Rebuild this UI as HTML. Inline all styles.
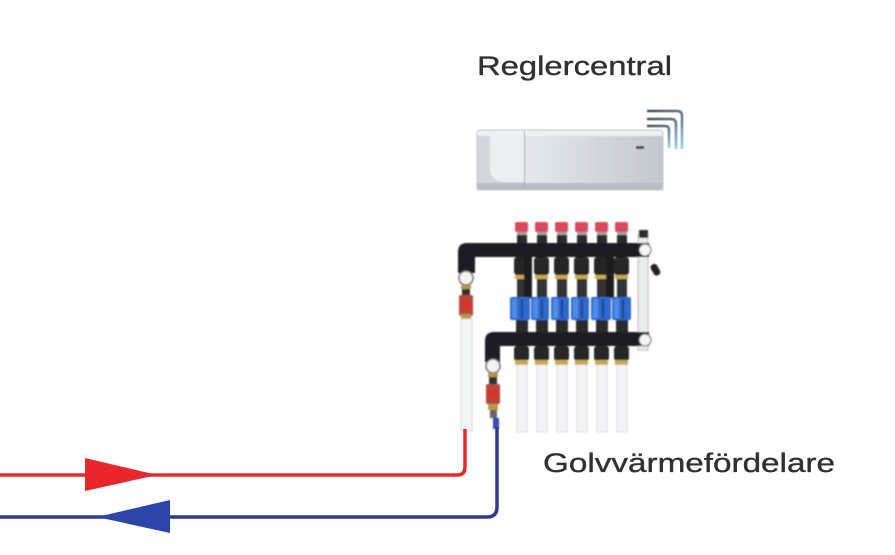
<!DOCTYPE html>
<html><head><meta charset="utf-8"><style>
html,body{margin:0;padding:0;background:#fff;}
svg{display:block;}
</style></head><body>
<svg width="895" height="555" viewBox="0 0 895 555" xmlns="http://www.w3.org/2000/svg">
<defs>
<linearGradient id="box" x1="0" y1="0" x2="1" y2="0">
<stop offset="0" stop-color="#e6e9ec"/><stop offset="0.3" stop-color="#e2e7ed"/><stop offset="0.7" stop-color="#d0d5db"/><stop offset="1" stop-color="#c3c8ce"/>
</linearGradient>
<linearGradient id="wifi" x1="0" y1="0" x2="1" y2="1">
<stop offset="0" stop-color="#4a4f55"/><stop offset="0.6" stop-color="#5f7d90"/><stop offset="1" stop-color="#8fd0f0"/>
</linearGradient>
<filter id="bl" x="-5%" y="-5%" width="110%" height="110%"><feGaussianBlur stdDeviation="0.9"/></filter>
<filter id="bl2"><feGaussianBlur stdDeviation="0.5"/></filter>
</defs>

<text x="477" y="75" font-family="Liberation Sans, sans-serif" font-size="27" fill="#303030" stroke="#303030" stroke-width="0.35" textLength="195" lengthAdjust="spacingAndGlyphs">Reglercentral</text>
<text x="543" y="472" font-family="Liberation Sans, sans-serif" font-size="27" fill="#303030" stroke="#303030" stroke-width="0.35" textLength="292" lengthAdjust="spacingAndGlyphs">Golvvärmefördelare</text>

<!-- controller -->
<g filter="url(#bl2)">
<rect x="477" y="130" width="186" height="60" rx="3" fill="url(#box)"/>
<rect x="477" y="130" width="186" height="6" fill="#eef0f2"/>
<rect x="477" y="183" width="186" height="7" fill="#b9bec4"/>
<path d="M477,136 H490 V168 Q490,182 506,182 H524 V183 H477 Z" fill="#d3d7db"/>
<path d="M490,136 H524 V182 H506 Q490,182 490,168 Z" fill="#eceef1"/>
<line x1="524.5" y1="131" x2="524.5" y2="189" stroke="#a8adb3" stroke-width="1"/>
<rect x="636" y="146" width="8" height="3" fill="#50555b"/>
<rect x="477" y="130" width="186" height="60" rx="3" fill="none" stroke="#c4c8cc" stroke-width="1"/>
</g>
<!-- wifi -->
<g fill="none" stroke="url(#wifi)" stroke-width="2.5" filter="url(#bl2)">
<path d="M647,111 H677 Q682,111 682,116 V149"/>
<path d="M647,119 H671 Q676,119 676,124 V149"/>
<path d="M647,126 H665 Q669,126 669,130 V148"/>
</g>

<!-- manifold -->
<g filter="url(#bl)">
<!-- right side pipe -->
<rect x="638" y="234" width="10" height="116" fill="#e9ebec" stroke="#b7babd" stroke-width="1"/>
<rect x="639" y="230" width="9" height="8" fill="#2a2a2a"/>
<!-- caps -->
<g fill="#d9485e">
<rect x="515" y="222" width="13" height="10" rx="2"/>
<rect x="535" y="222" width="13" height="10" rx="2"/>
<rect x="555" y="222" width="13" height="10" rx="2"/>
<rect x="575" y="222" width="13" height="10" rx="2"/>
<rect x="595" y="222" width="13" height="10" rx="2"/>
<rect x="615" y="222" width="13" height="10" rx="2"/>
</g>
<g fill="#2a2a2a">
<rect x="517" y="232" width="10" height="12"/><rect x="537" y="232" width="10" height="12"/><rect x="557" y="232" width="10" height="12"/><rect x="577" y="232" width="10" height="12"/><rect x="597" y="232" width="10" height="12"/><rect x="617" y="232" width="10" height="12"/>
</g>
<g fill="#a0a0a0"><rect x="517" y="232" width="10" height="3"/><rect x="537" y="232" width="10" height="3"/><rect x="557" y="232" width="10" height="3"/><rect x="577" y="232" width="10" height="3"/><rect x="597" y="232" width="10" height="3"/><rect x="617" y="232" width="10" height="3"/></g>
<!-- top bar -->
<path d="M458,273 V252 Q458,243 467,243 H649 V257 H475 V273 Z" fill="#1e1e20"/>
<circle cx="645" cy="250" r="6" fill="#f4f4f4" stroke="#555" stroke-width="1"/>
<rect x="652" y="264" width="7" height="12" rx="3" fill="#222" transform="rotate(-30 655 270)"/>
<!-- top fittings -->
<g fill="#262626">
<rect x="514" y="257" width="15" height="18" rx="3"/><rect x="534" y="257" width="15" height="18" rx="3"/><rect x="554" y="257" width="15" height="18" rx="3"/><rect x="574" y="257" width="15" height="18" rx="3"/><rect x="594" y="257" width="15" height="18" rx="3"/><rect x="614" y="257" width="15" height="18" rx="3"/>
</g>
<g fill="#c7a94f">
<rect x="515" y="275" width="13" height="4"/><rect x="535" y="275" width="13" height="4"/><rect x="555" y="275" width="13" height="4"/><rect x="575" y="275" width="13" height="4"/><rect x="595" y="275" width="13" height="4"/><rect x="615" y="275" width="13" height="4"/>
</g>
<g fill="#333">
<rect x="517" y="279" width="10" height="19"/><rect x="537" y="279" width="10" height="19"/><rect x="557" y="279" width="10" height="19"/><rect x="577" y="279" width="10" height="19"/><rect x="597" y="279" width="10" height="19"/><rect x="617" y="279" width="10" height="19"/>
<rect x="524" y="257" width="8" height="41" fill="#1e1e1e"/><rect x="606" y="257" width="8" height="41" fill="#1e1e1e"/>
</g>
<!-- blue flow meters -->
<g fill="#2d69cc">
<rect x="510" y="297" width="20" height="23" rx="2"/><rect x="531" y="297" width="18" height="23" rx="2"/><rect x="551" y="297" width="18" height="23" rx="2"/><rect x="571" y="297" width="18" height="23" rx="2"/><rect x="591" y="297" width="20" height="23" rx="2"/><rect x="612" y="297" width="19" height="23" rx="2"/>
</g>
<g fill="#4f8ce6">
<rect x="512" y="299" width="5" height="19"/><rect x="533" y="299" width="5" height="19"/><rect x="553" y="299" width="5" height="19"/><rect x="573" y="299" width="5" height="19"/><rect x="593" y="299" width="5" height="19"/><rect x="614" y="299" width="5" height="19"/>
</g>
<g fill="#1f3f88">
<rect x="521" y="299" width="2" height="19"/><rect x="541" y="299" width="2" height="19"/><rect x="561" y="299" width="2" height="19"/><rect x="581" y="299" width="2" height="19"/><rect x="602" y="299" width="2" height="19"/><rect x="622" y="299" width="2" height="19"/>
</g>
<g fill="#2a2a2a">
<rect x="516" y="320" width="12" height="13"/><rect x="536" y="320" width="12" height="13"/><rect x="556" y="320" width="12" height="13"/><rect x="576" y="320" width="12" height="13"/><rect x="596" y="320" width="12" height="13"/><rect x="616" y="320" width="12" height="13"/>
</g>
<!-- bottom bar -->
<path d="M485,362 V341 Q485,332 494,332 H649 V346 H500 V362 Z" fill="#1e1e20"/>
<circle cx="645" cy="340" r="6" fill="#f4f4f4" stroke="#555" stroke-width="1"/>
<!-- bottom fittings -->
<g fill="#262626">
<rect x="514" y="346" width="15" height="15" rx="3"/><rect x="534" y="346" width="15" height="15" rx="3"/><rect x="554" y="346" width="15" height="15" rx="3"/><rect x="574" y="346" width="15" height="15" rx="3"/><rect x="594" y="346" width="15" height="15" rx="3"/><rect x="614" y="346" width="15" height="15" rx="3"/>
</g>
<g fill="#c7a94f">
<rect x="515" y="360" width="13" height="5"/><rect x="535" y="360" width="13" height="5"/><rect x="555" y="360" width="13" height="5"/><rect x="575" y="360" width="13" height="5"/><rect x="595" y="360" width="13" height="5"/><rect x="615" y="360" width="13" height="5"/>
</g>
<g fill="#f3f4f5" stroke="#dcdee0" stroke-width="1">
<rect x="517" y="365" width="10" height="67"/><rect x="537" y="365" width="10" height="67"/><rect x="557" y="365" width="10" height="67"/><rect x="577" y="365" width="10" height="67"/><rect x="597" y="365" width="10" height="67"/><rect x="617" y="365" width="10" height="67"/>
</g>
<!-- left supply column -->
<circle cx="466" cy="278" r="7" fill="#f4f4f4" stroke="#6a6a6a" stroke-width="1.5"/>
<rect x="461" y="285" width="10" height="4" fill="#b89a48"/>
<rect x="462" y="289" width="8" height="6" fill="#333"/>
<rect x="459" y="295" width="14" height="21" rx="2" fill="#b8463a"/>
<circle cx="466" cy="305" r="5" fill="#d8322b"/>
<rect x="461" y="314" width="10" height="5" fill="#b89a48"/>
<rect x="461" y="319" width="11" height="112" fill="#f3f4f5" stroke="#d6d8da" stroke-width="1"/>
<!-- left return column -->
<circle cx="493" cy="366" r="7" fill="#f4f4f4" stroke="#6a6a6a" stroke-width="1.5"/>
<rect x="488" y="373" width="10" height="4" fill="#b89a48"/>
<rect x="489" y="377" width="8" height="7" fill="#333"/>
<rect x="486" y="384" width="14" height="20" rx="2" fill="#b8463a"/>
<circle cx="493" cy="394" r="5" fill="#d8322b"/>
<rect x="488" y="404" width="10" height="6" fill="#b89a48"/>
<rect x="490" y="410" width="7" height="8" fill="#666"/>
<rect x="493" y="418" width="6" height="11" fill="#3a48b0"/>
</g>

<!-- flow lines -->
<path d="M0,475 H457 Q465,475 465,467 V429" fill="none" stroke="#e42a2a" stroke-width="3.5"/>
<polygon points="85,458 157,475 85,491" fill="#e8262b"/>
<path d="M0,517 H487 Q497,517 497,507 V427" fill="none" stroke="#2e3a94" stroke-width="3.5"/>
<polygon points="170,500 97,517 170,533" fill="#2d45a8"/>
</svg>
</body></html>
